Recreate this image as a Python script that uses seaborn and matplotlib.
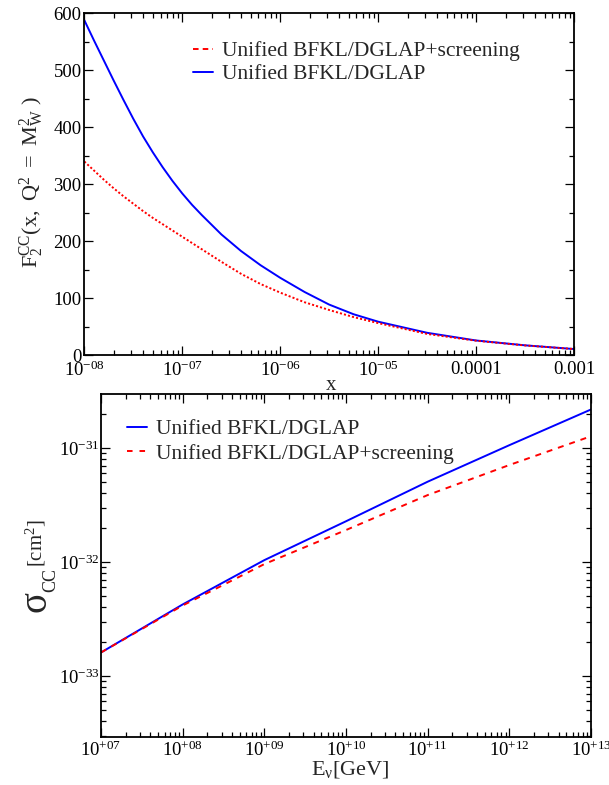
import numpy as np
import pandas as pd
import seaborn as sns
import matplotlib
matplotlib.use("Agg")
import matplotlib.pyplot as plt
from matplotlib.lines import Line2D
from matplotlib.ticker import LogLocator, NullFormatter, MultipleLocator

# ---------------- data ----------------
log_x_top = [-8, -7.9, -7.8, -7.7, -7.6, -7.5, -7.4, -7.3, -7.2, -7.1, -7.0,
             -6.9, -6.8, -6.6, -6.4, -6.2, -6.0, -5.75, -5.5, -5.25, -5.0,
             -4.5, -4.0, -3.5, -3.0]
f2_unified = [588, 552, 517, 482, 448, 415, 384, 356, 330, 306, 284,
              264, 246, 212, 183, 158, 136, 111, 89, 72, 59,
              39.5, 26, 17.5, 11]
f2_screening = [340, 324, 308, 293, 279, 266, 253, 241, 230, 219, 208,
                197, 186, 164, 143, 125, 110, 93, 79.5, 67, 56.5,
                37.5, 25.6, 17.3, 11]

e_nu = [1e7, 1e8, 1e9, 1e10, 1e11, 1e12, 1e13]
sigma_unified = [1.61e-33, 4.25e-33, 1.04e-32, 2.28e-32, 5.07e-32, 1.06e-31, 2.18e-31]
sigma_screening = [1.61e-33, 4.16e-33, 9.6e-33, 1.91e-32, 3.87e-32, 7.1e-32, 1.27e-31]

top_xticks = [1e-8, 1e-7, 1e-6, 1e-5, 1e-4, 1e-3]
top_xticklabels = [r"$10^{-08}$", r"$10^{-07}$", r"$10^{-06}$", r"$10^{-05}$", "0.0001", "0.001"]
bot_xticks = [1e7, 1e8, 1e9, 1e10, 1e11, 1e12, 1e13]
bot_xticklabels = [r"$10^{+07}$", r"$10^{+08}$", r"$10^{+09}$", r"$10^{+10}$",
                   r"$10^{+11}$", r"$10^{+12}$", r"$10^{+13}$"]
bot_yticks = [1e-33, 1e-32, 1e-31]
bot_yticklabels = [r"$10^{-33}$", r"$10^{-32}$", r"$10^{-31}$"]

label_unified = "Unified BFKL/DGLAP"
label_screening = "Unified BFKL/DGLAP+screening"

# ---------------- style ----------------
sns.set_theme(style="ticks")
plt.rcParams["font.family"] = ["Liberation Serif", "DejaVu Serif"]
plt.rcParams["mathtext.fontset"] = "custom"
plt.rcParams["mathtext.rm"] = "Liberation Serif"
plt.rcParams["mathtext.it"] = "Liberation Serif"
plt.rcParams["mathtext.bf"] = "Liberation Serif:bold"
plt.rcParams["lines.scale_dashes"] = False

BLUE = "#0000ff"
RED = "#ff0000"
W, H = 609, 785

fig = plt.figure(figsize=(W / 100, H / 100), dpi=100)
fig.patch.set_facecolor("white")


def axes_px(left, top, right, bottom):
    return fig.add_axes([left / W, 1 - bottom / H, (right - left) / W, (bottom - top) / H])


def style_axes(ax):
    for s in ax.spines.values():
        s.set_linewidth(1.3)
        s.set_color("black")
    ax.tick_params(which="both", direction="in", top=True, right=True,
                   colors="black", labelsize=13.5)
    ax.tick_params(which="major", length=6.5, width=0.9)
    ax.tick_params(which="minor", length=3.5, width=0.9)
    ax.set_facecolor("white")
    ax.grid(False)


# ---------------- top panel ----------------
ax1 = axes_px(84.3, 13.3, 574, 355.3)
df_top = pd.DataFrame({"x": np.power(10.0, log_x_top),
                       "unified": f2_unified, "screening": f2_screening})
sns.lineplot(data=df_top, x="x", y="unified", ax=ax1, color=BLUE, linewidth=1.4,
             legend=False)
sns.lineplot(data=df_top, x="x", y="screening", ax=ax1, color=RED, linewidth=1.4,
             legend=False)
ax1.lines[1].set_dashes((1.5, 1.5))
ax1.set_xscale("log")
ax1.set_xlim(1e-8, 1e-3)
ax1.set_ylim(0, 600)
ax1.set_xticks(top_xticks)
ax1.set_xticklabels(top_xticklabels)
ax1.xaxis.set_minor_locator(LogLocator(base=10, subs=np.arange(2, 10), numticks=50))
ax1.xaxis.set_minor_formatter(NullFormatter())
ax1.yaxis.set_major_locator(MultipleLocator(100))
ax1.yaxis.set_minor_locator(MultipleLocator(50))
ax1.set_xlabel("")
ax1.set_ylabel("")
style_axes(ax1)
ax1.tick_params(axis="x", which="major", pad=4)
ax1.tick_params(axis="y", which="major", pad=2)

h_top = [Line2D([], [], color=RED, lw=1.4, dashes=(4.0, 3.0)),
         Line2D([], [], color=BLUE, lw=1.4)]
fig.legend(h_top, [label_screening, label_unified], loc="upper left",
           bbox_to_anchor=(193 / W, 1 - 41 / H), bbox_transform=fig.transFigure,
           frameon=False, fontsize=15.5, handlelength=0.95, handletextpad=0.4,
           borderpad=0, borderaxespad=0, labelspacing=0.15)

fig.text(32 / W, 1 - 182 / H,
         r"$\mathrm{F}_{2}^{\mathrm{CC}}\mathrm{(x,\ Q^{2}\ =\ M_{W}^{2}\ )}$",
         rotation=90, ha="center", va="center", fontsize=16)
fig.text(331 / W, 1 - 386 / H, "x", ha="center", va="center", fontsize=15)

# ---------------- bottom panel ----------------
ax2 = axes_px(101, 394, 591, 736.7)
df_bot = pd.DataFrame({"E": e_nu, "unified": sigma_unified, "screening": sigma_screening})
sns.lineplot(data=df_bot, x="E", y="unified", ax=ax2, color=BLUE, linewidth=1.4,
             legend=False)
sns.lineplot(data=df_bot, x="E", y="screening", ax=ax2, color=RED, linewidth=1.4,
             legend=False)
ax2.lines[1].set_dashes((4.3, 4.3))
ax2.set_xscale("log")
ax2.set_yscale("log")
ax2.set_xlim(1e7, 1e13)
ax2.set_ylim(2.94e-34, 2.98e-31)
ax2.set_xticks(bot_xticks)
ax2.set_xticklabels(bot_xticklabels)
ax2.xaxis.set_minor_locator(LogLocator(base=10, subs=np.arange(2, 10), numticks=50))
ax2.xaxis.set_minor_formatter(NullFormatter())
ax2.set_yticks(bot_yticks)
ax2.set_yticklabels(bot_yticklabels)
ax2.yaxis.set_minor_locator(LogLocator(base=10, subs=np.arange(2, 10), numticks=50))
ax2.yaxis.set_minor_formatter(NullFormatter())
ax2.set_xlabel("")
ax2.set_ylabel("")
style_axes(ax2)
ax2.tick_params(axis="x", which="major", pad=3)
ax2.tick_params(axis="y", which="major", pad=1)

h_bot = [Line2D([], [], color=BLUE, lw=1.4),
         Line2D([], [], color=RED, lw=1.4, dashes=(4.0, 5.0))]
fig.legend(h_bot, [label_unified, label_screening], loc="upper left",
           bbox_to_anchor=(127 / W, 1 - 419 / H), bbox_transform=fig.transFigure,
           frameon=False, fontsize=15.5, handlelength=0.95, handletextpad=0.38,
           borderpad=0, borderaxespad=0, labelspacing=0.21)

fig.text(45 / W, 1 - 601 / H, "σ", rotation=90, rotation_mode="anchor",
         ha="center", va="baseline", fontsize=28)
fig.text(55 / W, 1 - 580 / H, "CC", rotation=90, rotation_mode="anchor",
         ha="center", va="baseline", fontsize=13)
fig.text(42 / W, 1 - 543 / H, r"[cm$^{2}$]", rotation=90, rotation_mode="anchor",
         ha="center", va="baseline", fontsize=15)
fig.text(350 / W, 1 - 769 / H, r"E$_{\nu}$[GeV]", ha="center", va="center", fontsize=16)

fig.savefig("out.png", dpi=100, facecolor="white")
